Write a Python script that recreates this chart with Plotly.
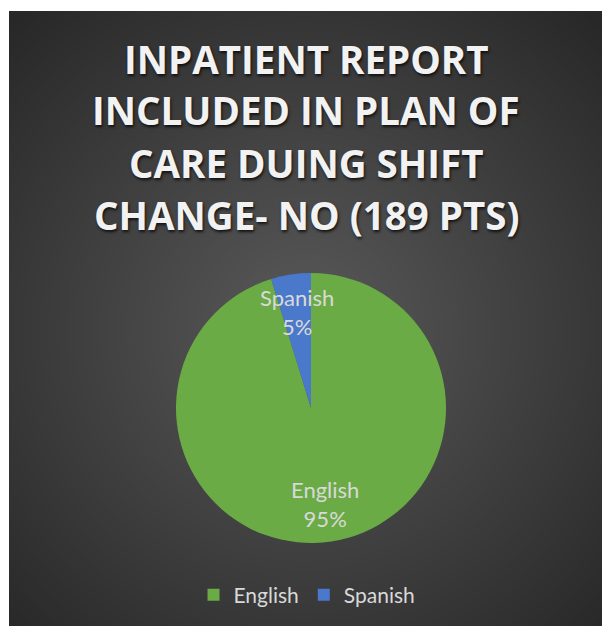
import base64
import math
import struct
import zlib

import numpy as np
import plotly.graph_objects as go

# ---- data ----
labels = ["English", "Spanish"]
values = [180, 9]
colors = ["#6aab46", "#4a78cb"]
title_lines = ["INPATIENT REPORT", "INCLUDED IN PLAN OF", "CARE DUING SHIFT", "CHANGE- NO (189 PTS)"]

W, H = 602, 626


def png_data_uri(arr):
    h, w, _ = arr.shape
    raw = b"".join(b"\x00" + arr[y].tobytes() for y in range(h))

    def chunk(tag, data):
        c = struct.pack(">I", len(data)) + tag + data
        return c + struct.pack(">I", zlib.crc32(tag + data) & 0xFFFFFFFF)

    png = b"\x89PNG\r\n\x1a\n"
    png += chunk(b"IHDR", struct.pack(">IIBBBBB", w, h, 8, 2, 0, 0, 0))
    png += chunk(b"IDAT", zlib.compress(raw, 9))
    png += chunk(b"IEND", b"")
    return "data:image/png;base64," + base64.b64encode(png).decode()


# radial gradient background for the chart area
bx0, by0 = 9, 11
bw, bh = W - bx0, H - by0
yy, xx = np.mgrid[0:bh, 0:bw]
cxg, cyg = 305 - bx0, 330 - by0
d = np.sqrt((xx - cxg) ** 2 + (yy - cyg) ** 2) / 428.0
d = np.clip(d, 0, 1)
v = 0x5a + (0x28 - 0x5a) * d
img = np.repeat(v[:, :, None], 3, axis=2).astype(np.uint8)
bg_uri = png_data_uri(img)

# pie geometry
pcx, pcy, pr = 311, 408, 135
dom_x = [(pcx - pr) / W, (pcx + pr) / W]
dom_y = [1 - (pcy + pr) / H, 1 - (pcy - pr) / H]

fig = go.Figure()
fig.add_trace(go.Pie(
    labels=labels, values=values, sort=False, direction="clockwise",
    marker=dict(colors=colors, line=dict(width=0)),
    textinfo="none", hoverinfo="label+percent",
    domain=dict(x=dom_x, y=dom_y),
))

annotations = []
total = sum(values)
cum = 0.0
for lab, val in zip(labels, values):
    frac = val / total
    theta = 2 * math.pi * (cum + frac / 2)
    cum += frac
    rf = 0.72
    x_px = pcx + rf * pr * math.sin(theta)
    y_px = pcy - rf * pr * math.cos(theta)
    annotations.append(dict(
        x=x_px / W, y=1 - y_px / H, xref="paper", yref="paper",
        text=f"{lab}<br>{round(frac * 100)}%", showarrow=False,
        xanchor="center", yanchor="middle",
        font=dict(family="Lato", size=22, color="#d9d9d9"),
    ))

title_y = [59, 110, 163, 215]
for line, ty in zip(title_lines, title_y):
    annotations.append(dict(
        x=306 / W, y=1 - ty / H, xref="paper", yref="paper",
        text=f"<b>{line}</b>", showarrow=False,
        xanchor="center", yanchor="middle",
        font=dict(family="Open Sans", size=38.5, color="#f2f2f2",
                  shadow="1px 2px 3px rgba(0,0,0,0.75)"),
    ))

fig.update_layout(
    width=W, height=H,
    margin=dict(l=0, r=0, t=0, b=0),
    paper_bgcolor="white",
    plot_bgcolor="rgba(0,0,0,0)",
    images=[dict(
        source=bg_uri, xref="paper", yref="paper",
        x=bx0 / W, y=1 - by0 / H, sizex=bw / W, sizey=bh / H,
        xanchor="left", yanchor="top", sizing="stretch", layer="below",
    )],
    annotations=annotations,
    showlegend=True,
    legend=dict(
        orientation="h", x=0.51, xanchor="center", y=1 - 595 / H, yanchor="middle",
        font=dict(family="Lato", size=21, color="#d9d9d9"),
        bgcolor="rgba(0,0,0,0)",
    ),
)

fig.write_html(
    "out.html",
    config={"displayModeBar": False},
    post_script="document.body.style.margin='0';document.body.style.overflow='hidden';",
)
